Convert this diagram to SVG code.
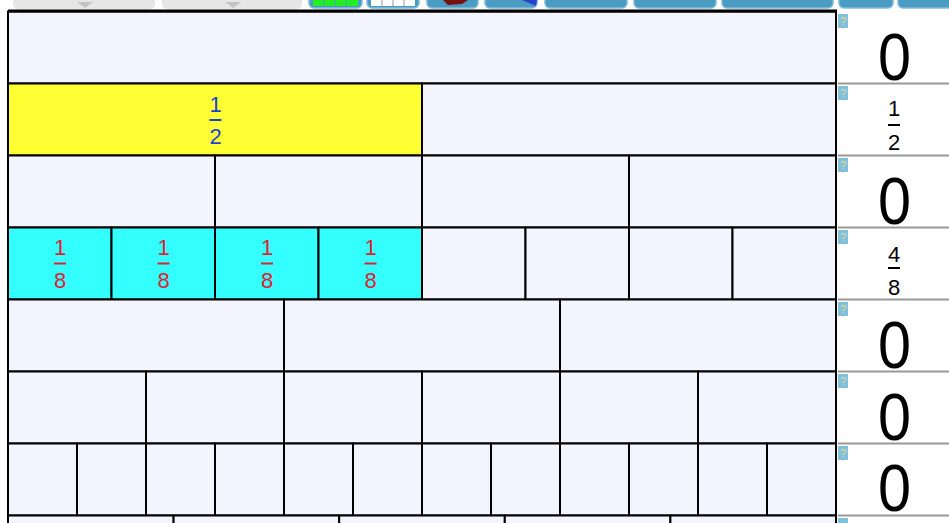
<svg xmlns="http://www.w3.org/2000/svg" width="949" height="523" viewBox="0 0 949 523">
<style>
.c{fill:#f3f4fd;stroke:#000;stroke-width:2}
.y{fill:#ffff33;stroke:#000;stroke-width:2}
.cy{fill:#33ffff;stroke:#000;stroke-width:2}
.sep{stroke:#999;stroke-width:2}
.btn{fill:#4a9cc3;stroke:#7fbcd9;stroke-width:1.5}
.dd{fill:#e6e6e6}
.tri{fill:#c4c4c4}
.q{fill:#80c0dc}
.qt{fill:#e8d890;font-family:"Liberation Sans",Arial,sans-serif;font-size:11px;text-anchor:middle}
.z{font-family:"Liberation Sans",Arial,sans-serif;font-size:66px;text-anchor:middle;fill:#000}
.f{font-family:"Liberation Sans",Arial,sans-serif;font-size:22px;text-anchor:middle}
.b{fill:#1e3fd6}
.r{fill:#dd2233}
.k{fill:#000}
</style>
<rect x="0" y="0" width="949" height="523" fill="#fff"/>
<g id="toolbar">
<rect class="dd" x="13" y="-10" width="142" height="19" rx="5"/>
<polygon class="tri" points="77,2 93,2 85,8"/>
<rect class="dd" x="162" y="-10" width="140" height="19" rx="5"/>
<polygon class="tri" points="225,2 241,2 233,8"/>
<rect class="btn" x="309" y="-10" width="53" height="18" rx="5"/>
<rect x="313" y="0" width="45" height="6" fill="#22ee22"/>
<path d="M324,0v6M335,0v6M346,0v6" stroke="#4a9cc3" stroke-width="1"/>
<rect class="btn" x="367" y="-10" width="52" height="18" rx="5"/>
<rect x="371" y="0" width="44" height="6" fill="#fff"/>
<path d="M382,0v6M393,0v6M404,0v6" stroke="#999" stroke-width="1"/>
<rect class="btn" x="427" y="-10" width="51" height="18" rx="5"/>
<path d="M443,0 L468,0 L462,4 L448,5 Z" fill="#7a1010"/>
<rect class="btn" x="485" y="-10" width="52" height="18" rx="5"/>
<path d="M522,0 L537,0 L536,6 Z" fill="#2a40d0"/>
<rect class="btn" x="545" y="-10" width="82" height="18" rx="5"/>
<rect class="btn" x="634" y="-10" width="82" height="18" rx="5"/>
<rect class="btn" x="722" y="-10" width="111" height="18" rx="5"/>
<rect class="btn" x="839" y="-10" width="54" height="18" rx="5"/>
<rect class="btn" x="898" y="-10" width="60" height="18" rx="5"/>
</g>
<g id="row1">
<rect class="c" x="8" y="11.5" width="828" height="72"/>
</g>
<g id="row2">
<rect class="y" x="8" y="83.5" width="414" height="72"/>
<rect class="c" x="422" y="83.5" width="414" height="72"/>
<text class="f b" x="215.5" y="112">1</text>
<rect class="b" x="209.5" y="119" width="12" height="2"/>
<text class="f b" x="215.5" y="144">2</text>
</g>
<g id="row3">
<rect class="c" x="8" y="155.5" width="207" height="72"/>
<rect class="c" x="215" y="155.5" width="207" height="72"/>
<rect class="c" x="422" y="155.5" width="207" height="72"/>
<rect class="c" x="629" y="155.5" width="207" height="72"/>
</g>
<g id="row4">
<rect class="cy" x="8" y="227.5" width="103.5" height="72"/>
<rect class="cy" x="111.5" y="227.5" width="103.5" height="72"/>
<rect class="cy" x="215" y="227.5" width="103.5" height="72"/>
<rect class="cy" x="318.5" y="227.5" width="103.5" height="72"/>
<rect class="c" x="422" y="227.5" width="103.5" height="72"/>
<rect class="c" x="525.5" y="227.5" width="103.5" height="72"/>
<rect class="c" x="629" y="227.5" width="103.5" height="72"/>
<rect class="c" x="732.5" y="227.5" width="103.5" height="72"/>
<g class="r">
<text class="f" x="60" y="255">1</text><rect x="54" y="262.5" width="12" height="2"/><text class="f" x="60" y="288">8</text>
<text class="f" x="163.5" y="255">1</text><rect x="157.5" y="262.5" width="12" height="2"/><text class="f" x="163.5" y="288">8</text>
<text class="f" x="267" y="255">1</text><rect x="261" y="262.5" width="12" height="2"/><text class="f" x="267" y="288">8</text>
<text class="f" x="370.5" y="255">1</text><rect x="364.5" y="262.5" width="12" height="2"/><text class="f" x="370.5" y="288">8</text>
</g>
</g>
<g id="row5">
<rect class="c" x="8" y="299.5" width="276" height="72"/>
<rect class="c" x="284" y="299.5" width="276" height="72"/>
<rect class="c" x="560" y="299.5" width="276" height="72"/>
</g>
<g id="row6">
<rect class="c" x="8" y="371.5" width="138" height="72"/>
<rect class="c" x="146" y="371.5" width="138" height="72"/>
<rect class="c" x="284" y="371.5" width="138" height="72"/>
<rect class="c" x="422" y="371.5" width="138" height="72"/>
<rect class="c" x="560" y="371.5" width="138" height="72"/>
<rect class="c" x="698" y="371.5" width="138" height="72"/>
</g>
<g id="row7">
<rect class="c" x="8" y="443.5" width="69" height="72"/>
<rect class="c" x="77" y="443.5" width="69" height="72"/>
<rect class="c" x="146" y="443.5" width="69" height="72"/>
<rect class="c" x="215" y="443.5" width="69" height="72"/>
<rect class="c" x="284" y="443.5" width="69" height="72"/>
<rect class="c" x="353" y="443.5" width="69" height="72"/>
<rect class="c" x="422" y="443.5" width="69" height="72"/>
<rect class="c" x="491" y="443.5" width="69" height="72"/>
<rect class="c" x="560" y="443.5" width="69" height="72"/>
<rect class="c" x="629" y="443.5" width="69" height="72"/>
<rect class="c" x="698" y="443.5" width="69" height="72"/>
<rect class="c" x="767" y="443.5" width="69" height="72"/>
</g>
<g id="row8">
<rect class="c" x="8" y="515.5" width="165.6" height="72"/>
<rect class="c" x="173.6" y="515.5" width="165.6" height="72"/>
<rect class="c" x="339.2" y="515.5" width="165.6" height="72"/>
<rect class="c" x="504.8" y="515.5" width="165.6" height="72"/>
<rect class="c" x="670.4" y="515.5" width="165.6" height="72"/>
</g>
<line x1="8" y1="11" x2="837" y2="11" stroke="#000" stroke-width="3"/>
<g id="totals">
<path class="sep" d="M838,83.5H949M838,155.5H949M838,227.5H949M838,299.5H949M838,371.5H949M838,443.5H949M838,515.5H949"/>
<g id="q-icons">
<rect class="q" x="838" y="14" width="10" height="14"/><text class="qt" x="843" y="25">?</text>
<rect class="q" x="838" y="86" width="10" height="14"/><text class="qt" x="843" y="97">?</text>
<rect class="q" x="838" y="158" width="10" height="14"/><text class="qt" x="843" y="169">?</text>
<rect class="q" x="838" y="230" width="10" height="14"/><text class="qt" x="843" y="241">?</text>
<rect class="q" x="838" y="302" width="10" height="14"/><text class="qt" x="843" y="313">?</text>
<rect class="q" x="838" y="374" width="10" height="14"/><text class="qt" x="843" y="385">?</text>
<rect class="q" x="838" y="446" width="10" height="14"/><text class="qt" x="843" y="457">?</text>
<rect class="q" x="838" y="518" width="10" height="14"/>
</g>
<text class="z" transform="translate(894.5,80) scale(0.9,1)">0</text>
<text class="f k" x="894" y="116">1</text><rect class="k" x="888" y="124" width="12" height="2"/><text class="f k" x="894" y="150">2</text>
<text class="z" transform="translate(894.5,224) scale(0.9,1)">0</text>
<text class="f k" x="894" y="262">4</text><rect class="k" x="888" y="267" width="12" height="2"/><text class="f k" x="894" y="295">8</text>
<text class="z" transform="translate(894.5,368) scale(0.9,1)">0</text>
<text class="z" transform="translate(894.5,440) scale(0.9,1)">0</text>
<text class="z" transform="translate(894.5,511) scale(0.9,1)">0</text>
</g>
<g id="connectors"/>
</svg>
